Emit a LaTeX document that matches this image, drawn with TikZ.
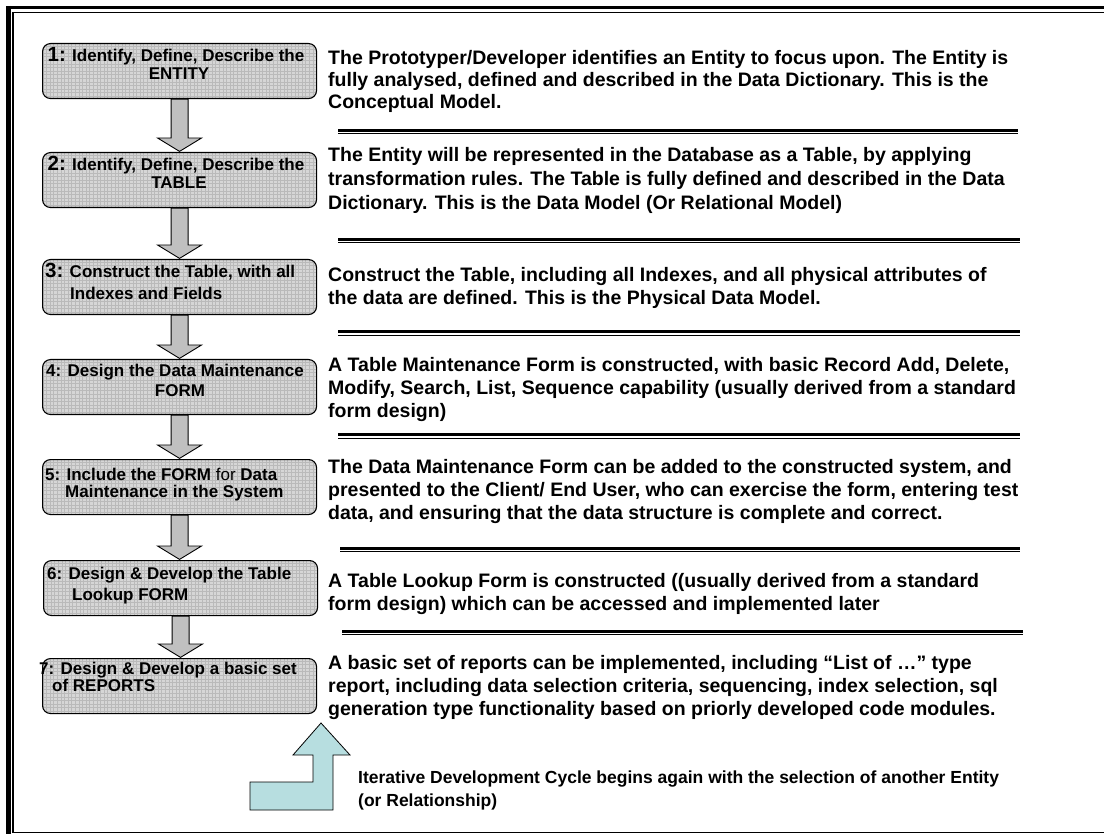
\documentclass[tikz,border=0pt]{standalone}
\usepackage{fontspec}
\setmainfont{Liberation Sans}
\usetikzlibrary{calc}
\definecolor{boxgray}{RGB}{214,214,214}
\definecolor{gridgray}{RGB}{186,186,186}
\definecolor{arrgray}{RGB}{192,192,192}
\definecolor{cyanfill}{RGB}{183,222,224}
\newcommand\bignum[1]{{\fontsize{20.5}{20}\selectfont #1}}
\begin{document}
\begin{tikzpicture}[x=1pt,y=-1pt,
  stepbox/.style={draw=black, line width=1.1pt, rounded corners=8pt, fill=boxgray,
    minimum width=274pt, minimum height=55pt, inner sep=0pt, anchor=north west,
    path picture={\draw[gridgray, line width=0.35pt]
      (path picture bounding box.south west) grid[step=3.6pt] (path picture bounding box.north east);}},
  grayarrow/.style={draw=black, line width=0.9pt, fill=arrgray, line join=miter},
  sepline/.style={line width=3pt},
  septhin/.style={line width=1pt},
  rtext/.style={anchor=base west, inner sep=0pt, font=\fontsize{19.5}{22}\selectfont\bfseries},
  itext/.style={anchor=base west, inner sep=0pt, font=\fontsize{17.5}{20}\selectfont\bfseries},
  btext/.style={inner sep=0pt, font=\fontsize{17}{19}\selectfont\bfseries},
]
\useasboundingbox (0,0) rectangle (1104,834);
% page border
\draw[line width=3.5pt] (6,7.7) -- (1104,7.7);
\draw[line width=1.4pt] (13,12.5) -- (1104,12.5);
\draw[line width=5pt] (8.5,6) -- (8.5,834);
\draw[line width=1.5pt] (13,12.5) -- (13,832.5) -- (1104,832.5);

% boxes
\node[stepbox] (b1) at (42,43) {};
\node[stepbox] (b2) at (42,152) {};
\node[stepbox] (b3) at (42,259) {};
\node[stepbox] (b4) at (42,359) {};
\node[stepbox] (b5) at (42,459) {};
\node[stepbox] (b6) at (43,560) {};
\node[stepbox] (b7) at (42,658) {};

% arrows between boxes
\newcommand\grayarr[2]{%
  \draw[grayarrow] let \p1=(#1.south), \p2=(#2.north) in
    (\x1-8.5pt,\y1) -- (\x1-8.5pt,\y2+14pt) -- (\x1-22pt,\y2+14pt) -- (\x1,\y2+0.6pt)
    -- (\x1+22pt,\y2+14pt) -- (\x1+8.5pt,\y2+14pt) -- (\x1+8.5pt,\y1) -- cycle;}
\grayarr{b1}{b2}
\grayarr{b2}{b3}
\grayarr{b3}{b4}
\grayarr{b4}{b5}
\grayarr{b5}{b6}
\grayarr{b6}{b7}

% box texts
\node[btext, anchor=base] (l1a) at (176,62) {\bignum{1:} Identify, Define, Describe the};
\node[btext, anchor=base] (l1b) at (179,80) {ENTITY};
\node[btext, anchor=base] (l2a) at (176,171) {\bignum{2:} Identify, Define, Describe the};
\node[btext, anchor=base] (l2b) at (179,189) {TABLE};
\node[btext, anchor=base west] (l3a) at (45,278) {\bignum{3:} Construct the Table, with all};
\node[btext, anchor=base west] (l3b) at (70,300) {Indexes and Fields};
\node[btext, anchor=base] (l4a) at (175,377) {4: Design the Data Maintenance};
\node[btext, anchor=base] (l4b) at (180,397) {FORM};
\node[btext, anchor=base west] (l5a) at (45,480) {5: Include the FORM {\mdseries for} Data};
\node[btext, anchor=base west] (l5b) at (65,497) {Maintenance in the System};
\node[btext, anchor=base west] (l6a) at (47,579) {6: Design \& Develop the Table};
\node[btext, anchor=base west] (l6b) at (72,600) {Lookup FORM};
\node[btext, anchor=base west] (l7a) at (39,674) {7: Design \& Develop a basic set};
\node[btext, anchor=base west] (l7b) at (52,691) {of REPORTS};

% right texts
\node[rtext] (r1a) at (328,65) {The Prototyper/Developer identifies an Entity to focus upon. The Entity is};
\node[rtext] (r1b) at (328,87) {fully analysed, defined and described in the Data Dictionary. This is the};
\node[rtext] (r1c) at (328,109) {Conceptual Model.};
\draw[sepline] (338,130.5) -- (1018,130.5);
\draw[septhin] (338,134) -- (1018,134);

\node[rtext] (r2a) at (328,162) {The Entity will be represented in the Database as a Table, by applying};
\node[rtext] (r2b) at (328,186) {transformation rules. The Table is fully defined and described in the Data};
\node[rtext] (r2c) at (328,210) {Dictionary. This is the Data Model (Or Relational Model)};
\draw[sepline] (338,239.5) -- (1020,239.5);
\draw[septhin] (338,243) -- (1020,243);

\node[rtext] (r3a) at (328,282) {Construct the Table, including all Indexes, and all physical attributes of};
\node[rtext] (r3b) at (328,305) {the data are defined. This is the Physical Data Model.};
\draw[sepline] (338,332) -- (1020,332);
\draw[septhin] (338,335.5) -- (1020,335.5);

\node[rtext] (r4a) at (328,372) {A Table Maintenance Form is constructed, with basic Record Add, Delete,};
\node[rtext] (r4b) at (328,395) {Modify, Search, List, Sequence capability (usually derived from a standard};
\node[rtext] (r4c) at (328,418) {form design)};
\draw[sepline] (338,435) -- (1020,435);
\draw[septhin] (338,438.5) -- (1020,438.5);

\node[rtext] (r5a) at (328,473) {The Data Maintenance Form can be added to the constructed system, and};
\node[rtext] (r5b) at (328,496) {presented to the Client/ End User, who can exercise the form, entering test};
\node[rtext] (r5c) at (328,519) {data, and ensuring that the data structure is complete and correct.};
\draw[sepline] (340,548) -- (1020,548);
\draw[septhin] (340,551.5) -- (1020,551.5);

\node[rtext] (r6a) at (328,587) {A Table Lookup Form is constructed ((usually derived from a standard};
\node[rtext] (r6b) at (328,610) {form design) which can be accessed and implemented later};
\draw[sepline] (342,631) -- (1023,631);
\draw[septhin] (342,634.5) -- (1023,634.5);

\node[rtext] (r7a) at (328,669) {A basic set of reports can be implemented, including “List of …” type};
\node[rtext] (r7b) at (328,692) {report, including data selection criteria, sequencing, index selection, sql};
\node[rtext] (r7c) at (328,715) {generation type functionality based on priorly developed code modules.};

% iterative cycle arrow
\draw[fill=cyanfill, draw=black, line width=0.8pt, line join=miter]
  (250,810) -- (250,782) -- (313,782) -- (313,755) -- (293,755) -- (321,723)
  -- (350,755) -- (333,755) -- (333,810) -- cycle;
\node[itext] (it1) at (358,783) {Iterative Development Cycle begins again with the selection of another Entity};
\node[itext] (it2) at (358,806) {(or Relationship)};
\end{tikzpicture}
\end{document}
